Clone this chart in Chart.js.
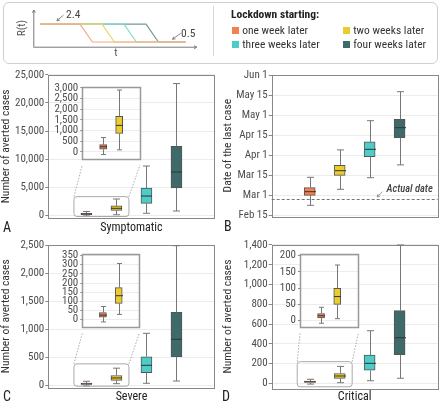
<!DOCTYPE html>
<html>
<head>
<meta charset="utf-8">
<script src="https://cdn.jsdelivr.net/npm/chart.js@4.4.1/dist/chart.umd.min.js"></script>
<style>
  body { margin: 0; width: 440px; height: 403px; position: relative; overflow: hidden; background: #fff; font-family: 'Roboto Condensed', Roboto, sans-serif; color: #333; }
  canvas, .abs { position: absolute; }
  .frame { left: 3px; top: 2px; width: 433px; height: 60px; border: 1px solid #cfcfcf; border-radius: 6px; }
  .divider { left: 213px; top: 6px; width: 1px; height: 50px; background: #d6d6d6; }
  .item { font-size: 11.5px; line-height: 12px; color: #333; white-space: nowrap; }
  .sw { display: inline-block; width: 7px; height: 7px; margin-right: 3.5px; vertical-align: 0px; }
  .letter { font-size: 14px; line-height: 14px; color: #222; }
  .note { font-size: 11px; line-height: 12px; color: #555; }
</style>
</head>
<body>
<div class="abs frame"></div>
<div class="abs divider"></div>
<canvas id="sketch" width="213" height="63" style="left:0;top:0"></canvas>
<div class="abs note" style="left:6.5px;top:21.5px;width:30px;text-align:center;transform:rotate(-90deg)">R(t)</div>
<div class="abs note" style="left:110px;top:46.5px;width:12px;text-align:center">t</div>
<div class="abs note" style="left:66px;top:8px;font-size:11.5px;color:#444">2.4</div>
<div class="abs note" style="left:181px;top:26.5px;font-size:11.5px;color:#444">0.5</div>
<div class="abs" style="left:231px;top:8px;font-size:11.5px;line-height:12px;font-weight:bold;color:#222">Lockdown starting:</div>

<canvas id="panelA" width="218" height="172" style="left:0;top:64px"></canvas>
<canvas id="panelB" width="218" height="172" style="left:222px;top:64px"></canvas>
<canvas id="panelC" width="218" height="169" style="left:0;top:234px"></canvas>
<canvas id="panelD" width="218" height="169" style="left:222px;top:234px"></canvas>
<canvas id="zoomA"></canvas>
<canvas id="zoomC"></canvas>
<canvas id="zoomD"></canvas>

<div class="abs" style="left:386.5px;top:183px;font-size:10.5px;line-height:12px;font-style:italic;font-weight:500;color:#444">Actual date</div>
<div class="abs letter" style="left:3px;top:220px">A</div>
<div class="abs letter" style="left:224px;top:219px">B</div>
<div class="abs letter" style="left:3px;top:389px">C</div>
<div class="abs letter" style="left:222px;top:389px">D</div>

<script>
const groups = ['one week later', 'two weeks later', 'three weeks later', 'four weeks later'];
const groupColors = ['#F4804F', '#EBCB2E', '#4DCCC8', '#3E6B6A'];
const sketchColors = ['#F8A98C', '#EFD46A', '#86DAD6', '#739898'];

// box stats per group: [min, q1, median, q3, max]
const symptomatic = [
    [-120, 130, 245, 345, 675],
    [100, 870, 1245, 1670, 2900],
    [360, 2135, 3430, 4855, 8770],
    [765, 4855, 7700, 12300, 23450],
];
const severe = [
    [-12, 14, 25, 39, 72],
    [29, 89, 131, 175, 307],
    [36, 226, 358, 512, 931],
    [77, 512, 824, 1307, 2500],
];
const critical = [
    [-8, 8, 15, 22, 41],
    [6, 50, 74, 99, 171],
    [26, 132, 202, 286, 532],
    [51, 289, 461, 735, 1400],
];
// date of last case, counted in tick steps from Feb 15
const lastCase = [
    [0.52, 1.02, 1.2, 1.4, 1.92],
    [1.32, 2.02, 2.25, 2.52, 3.29],
    [1.9, 2.95, 3.32, 3.69, 4.75],
    [2.54, 3.9, 4.4, 4.82, 6.2],
];
const actualDate = 0.82;

const dateTicks = ['Feb 15', 'Mar 1', 'Mar 15', 'Apr 1', 'Apr 15', 'May 1', 'May 15', 'Jun 1'];
const symptomaticTicks = [0, 5000, 10000, 15000, 20000, 25000];
const symptomaticZoomTicks = [0, 500, 1000, 1500, 2000, 2500, 3000];
const severeTicks = [0, 500, 1000, 1500, 2000, 2500];
const severeZoomTicks = [0, 50, 100, 150, 200, 250, 300, 350];
const criticalTicks = [0, 200, 400, 600, 800, 1000, 1200, 1400];
const criticalZoomTicks = [0, 50, 100, 150, 200];

// schematic R(t)
const rBefore = 2.4;
const rAfter = 0.5;
const lockdownAt = [1.8, 2.8, 3.8, 4.8];
const rampLength = 0.56;
const sketchEnd = 6.6;

Chart.defaults.font.family = "'Roboto Condensed', Roboto, sans-serif";
Chart.defaults.font.size = 11;
Chart.defaults.color = '#4d4d4d';

groups.forEach((g, i) => {
    const item = document.createElement('div');
    item.className = 'abs item';
    item.style.left = (i % 2 ? 342.7 : 231.7) + 'px';
    item.style.top = (i < 2 ? 24 : 37.5) + 'px';
    item.innerHTML = `<span class="sw" style="background:${groupColors[i]}"></span>${g}`;
    document.body.appendChild(item);
});

function arrow(ctx, x1, y1, x2, y2) {
    // line from (x1,y1) to tip (x2,y2)
    const a = Math.atan2(y2 - y1, x2 - x1);
    ctx.beginPath();
    ctx.moveTo(x1, y1);
    ctx.lineTo(x2, y2);
    ctx.moveTo(x2 - 3 * Math.cos(a - 0.5), y2 - 3 * Math.sin(a - 0.5));
    ctx.lineTo(x2, y2);
    ctx.lineTo(x2 - 3 * Math.cos(a + 0.5), y2 - 3 * Math.sin(a + 0.5));
    ctx.stroke();
}

// ---- schematic ----
const sketchAxes = {
    id: 'sketchAxes',
    afterDraw(chart) {
        const { ctx, chartArea: { left, right, top, bottom }, scales: { x, y } } = chart;
        ctx.save();
        ctx.strokeStyle = '#777';
        ctx.lineWidth = 1;
        arrow(ctx, left + 0.5, bottom, left + 0.5, top);
        arrow(ctx, left, bottom + 0.5, right, bottom + 0.5);
        ctx.strokeStyle = '#888';
        const hx = x.getPixelForValue(0.75), hy = y.getPixelForValue(rBefore) - 3.3;
        arrow(ctx, hx + 6.6, hy - 5.7, hx, hy);
        const lx = x.getPixelForValue(6.0), ly = y.getPixelForValue(rAfter) - 2.7;
        arrow(ctx, lx + 8.3, ly - 6, lx, ly);
        ctx.restore();
    }
};

new Chart(document.getElementById('sketch'), {
    type: 'line',
    data: {
        datasets: lockdownAt.map((t, i) => ({
            data: [
                { x: 0, y: rBefore },
                { x: t, y: rBefore },
                { x: t + rampLength, y: rAfter },
                { x: sketchEnd, y: rAfter },
            ],
            borderColor: sketchColors[i],
            borderWidth: 1.2,
            pointRadius: 0,
            tension: 0,
        }))
    },
    options: {
        responsive: false,
        animation: false,
        layout: { padding: { left: 33.3, right: 16.3, top: 10, bottom: 16.3 } },
        plugins: { legend: { display: false }, tooltip: { enabled: false } },
        scales: {
            x: { type: 'linear', min: -0.32, max: 7.1, display: false },
            y: { min: 0, max: 3.9, display: false },
        }
    },
    plugins: [sketchAxes]
});

// ---- box plots ----
function boxPlot(stats, cap, half) {
    return {
        id: 'boxPlot',
        afterDatasetsDraw(chart) {
            const { ctx, scales: { x, y } } = chart;
            ctx.save();
            ctx.lineWidth = 1;
            stats.forEach((s, i) => {
                const px = Math.round(x.getPixelForValue(i)) + 0.5;
                const [lo, q1, med, q3, hi] = s.map(v => y.getPixelForValue(v));
                ctx.strokeStyle = '#777';
                ctx.beginPath();
                ctx.moveTo(px, q3); ctx.lineTo(px, hi);
                ctx.moveTo(px, q1); ctx.lineTo(px, lo);
                ctx.moveTo(px - cap, hi); ctx.lineTo(px + cap, hi);
                ctx.moveTo(px - cap, lo); ctx.lineTo(px + cap, lo);
                ctx.stroke();
                ctx.strokeStyle = '#333';
                ctx.beginPath();
                ctx.moveTo(px - half, med); ctx.lineTo(px + half, med);
                ctx.stroke();
            });
            ctx.restore();
        }
    };
}

function framePlugin(color, width, fill) {
    return {
        id: 'frame',
        beforeDraw(chart) {
            if (!fill) return;
            const { ctx, chartArea: a } = chart;
            ctx.save();
            ctx.fillStyle = '#fff';
            ctx.fillRect(a.left, a.top, a.width, a.height);
            ctx.restore();
        },
        beforeDatasetsDraw(chart) {
            const { ctx, chartArea: a } = chart;
            ctx.save();
            ctx.strokeStyle = color;
            ctx.lineWidth = width;
            ctx.strokeRect(Math.round(a.left) + 0.5, Math.round(a.top) + 0.5, Math.round(a.width), Math.round(a.height));
            ctx.restore();
        }
    };
}

const countLabel = v => v.toLocaleString('en-US');

function boxChart(canvas, cfg) {
    return new Chart(canvas, {
        type: 'bar',
        data: {
            datasets: [{
                data: cfg.stats.map((s, i) => ({ x: i, y: [s[1], s[3]] })),
                backgroundColor: groupColors.slice(0, cfg.stats.length),
                borderColor: '#555',
                borderWidth: 1,
                borderSkipped: false,
                barThickness: cfg.barWidth,
            }]
        },
        options: {
            responsive: false,
            animation: false,
            layout: { padding: cfg.padding },
            plugins: { legend: { display: false }, tooltip: { enabled: false } },
            scales: {
                x: {
                    type: 'linear',
                    min: cfg.xRange[0],
                    max: cfg.xRange[1],
                    offset: false,
                    display: !!cfg.xTitle || cfg.xHeight > 0,
                    ticks: { display: false },
                    grid: { display: false, offset: false },
                    border: { display: false },
                    title: {
                        display: !!cfg.xTitle,
                        text: cfg.xTitle || '',
                        color: '#222',
                        font: { size: 12, weight: 'normal', lineHeight: 1 },
                        padding: { top: 0, bottom: cfg.xTitlePad || 0 },
                    },
                    afterFit: s => { s.height = cfg.xHeight || 0; },
                },
                y: {
                    min: cfg.yRange[0],
                    max: cfg.yRange[1],
                    bounds: 'data',
                    afterBuildTicks: s => { s.ticks = cfg.ticks.map(v => ({ value: v })); },
                    afterFit: s => { s.width = cfg.yWidth; },
                    ticks: { callback: cfg.label, padding: cfg.tickPad, color: '#4d4d4d', autoSkip: false },
                    grid: { color: '#ececec', tickLength: cfg.tickLen, tickColor: '#888' },
                    border: { display: false },
                    title: {
                        display: !!cfg.yTitle,
                        text: cfg.yTitle || '',
                        color: '#333',
                        font: { size: 11.5, lineHeight: 1 },
                        padding: 0,
                    },
                },
            }
        },
        plugins: [framePlugin(cfg.frameColor, cfg.frameWidth, cfg.fill), boxPlot(cfg.stats, cfg.cap, cfg.barWidth / 2), ...(cfg.extra || [])]
    });
}

const mainX = [-1.27, 4.27];
const zoomX = [-1.3, 2.3];

// inset plot rectangles in page coordinates
const insetA = { left: 82.3, right: 140, top: 86.7, bottom: 165 };
const insetC = { left: 82.3, right: 139.3, top: 254.3, bottom: 333.3 };
const insetD = { left: 300, right: 358.3, top: 254.3, bottom: 333.3 };

function zoomLinks(inset, zoomMax, canvasLeft, canvasTop) {
    return {
        id: 'zoomLinks',
        afterDatasetsDraw(chart) {
            const { ctx, chartArea, scales: { x, y } } = chart;
            const l = x.getPixelForValue(0) - 12.5, r = x.getPixelForValue(1) + 12.5;
            const t = y.getPixelForValue(zoomMax) - 1.5, b = chartArea.bottom - 1.5;
            ctx.save();
            ctx.strokeStyle = '#aaa';
            ctx.lineWidth = 1;
            ctx.beginPath();
            ctx.roundRect(l, t, r - l, b - t, 3);
            ctx.stroke();
            ctx.setLineDash([1.5, 1.5]);
            ctx.beginPath();
            ctx.moveTo(l, t);
            ctx.lineTo(inset.left - canvasLeft, inset.bottom - canvasTop);
            ctx.moveTo(r, t);
            ctx.lineTo(inset.right - canvasLeft, inset.bottom - canvasTop);
            ctx.stroke();
            ctx.restore();
        }
    };
}

const actualLine = {
    id: 'actualLine',
    afterDatasetsDraw(chart) {
        const { ctx, chartArea: a, scales: { x, y } } = chart;
        const py = Math.round(y.getPixelForValue(actualDate)) + 0.5;
        ctx.save();
        ctx.strokeStyle = '#777';
        ctx.lineWidth = 1;
        ctx.setLineDash([3, 2]);
        ctx.beginPath();
        ctx.moveTo(a.left, py);
        ctx.lineTo(a.right, py);
        ctx.stroke();
        ctx.setLineDash([]);
        ctx.strokeStyle = '#999';
        const tx = x.getPixelForValue(2.25), ty = py - 2.5;
        arrow(ctx, tx + 5.4, ty - 5.3, tx, ty);
        ctx.restore();
    }
};

const zoomA = [-300, 3056], zoomC = [-42, 357], zoomD = [-20.8, 204];

boxChart(document.getElementById('panelA'), {
    stats: symptomatic, ticks: symptomaticTicks, label: countLabel,
    yRange: [-480, 25030], xRange: mainX,
    padding: { left: 0, top: 10.7, right: 3.4, bottom: 0 },
    yWidth: 48.3, xHeight: 18, xTitle: 'Symptomatic', xTitlePad: 2.5,
    yTitle: 'Number of averted cases', tickPad: 1, tickLen: 3,
    barWidth: 11, cap: 3.5, frameColor: '#888', frameWidth: 1,
    extra: [zoomLinks(insetA, zoomA[1], 0, 64)],
});
boxChart(document.getElementById('panelB'), {
    stats: lastCase, ticks: dateTicks.map((d, i) => i), label: v => dateTicks[v],
    yRange: [-0.05, 7.05], xRange: mainX,
    padding: { left: 0, top: 10.7, right: 2.4, bottom: 0 },
    yWidth: 49.7, xHeight: 19.3,
    yTitle: 'Date of the last case', tickPad: 1, tickLen: 3,
    barWidth: 11, cap: 3.5, frameColor: '#888', frameWidth: 1,
    extra: [actualLine],
});
boxChart(document.getElementById('panelC'), {
    stats: severe, ticks: severeTicks, label: countLabel,
    yRange: [-43, 2518], xRange: mainX,
    padding: { left: 0, top: 10.7, right: 3.4, bottom: 0 },
    yWidth: 48.3, xHeight: 15.3, xTitle: 'Severe', xTitlePad: 0,
    yTitle: 'Number of averted cases', tickPad: 1, tickLen: 3,
    barWidth: 11, cap: 3.5, frameColor: '#888', frameWidth: 1,
    extra: [zoomLinks(insetC, zoomC[1], 0, 234)],
});
boxChart(document.getElementById('panelD'), {
    stats: critical, ticks: criticalTicks, label: countLabel,
    yRange: [-50.6, 1403], xRange: mainX,
    padding: { left: 0, top: 10.7, right: 2.4, bottom: 0 },
    yWidth: 49.7, xHeight: 14.7, xTitle: 'Critical', xTitlePad: 0.5,
    yTitle: 'Number of averted cases', tickPad: 1, tickLen: 3,
    barWidth: 11, cap: 3.5, frameColor: '#888', frameWidth: 1,
    extra: [zoomLinks(insetD, zoomD[1], 222, 234)],
});

function insetChart(id, inset, stats, ticks, range) {
    const canvas = document.getElementById(id);
    const left = Math.floor(inset.left - 34), top = Math.floor(inset.top - 9);
    canvas.width = Math.ceil(inset.right + 2 - left);
    canvas.height = Math.ceil(inset.bottom + 2 - top);
    canvas.style.left = left + 'px';
    canvas.style.top = top + 'px';
    boxChart(canvas, {
        stats: stats.slice(0, 2), ticks, label: countLabel,
        yRange: range, xRange: zoomX,
        padding: { left: 0, top: inset.top - top, right: canvas.width - (inset.right - left), bottom: canvas.height - (inset.bottom - top) },
        yWidth: inset.left - left, xHeight: 0, tickPad: 2, tickLen: 2,
        barWidth: 7, cap: 2.5, frameColor: '#999', frameWidth: 1.5, fill: true,
    });
}
insetChart('zoomA', insetA, symptomatic, symptomaticZoomTicks, zoomA);
insetChart('zoomC', insetC, severe, severeZoomTicks, zoomC);
insetChart('zoomD', insetD, critical, criticalZoomTicks, zoomD);
</script>
</body>
</html>
